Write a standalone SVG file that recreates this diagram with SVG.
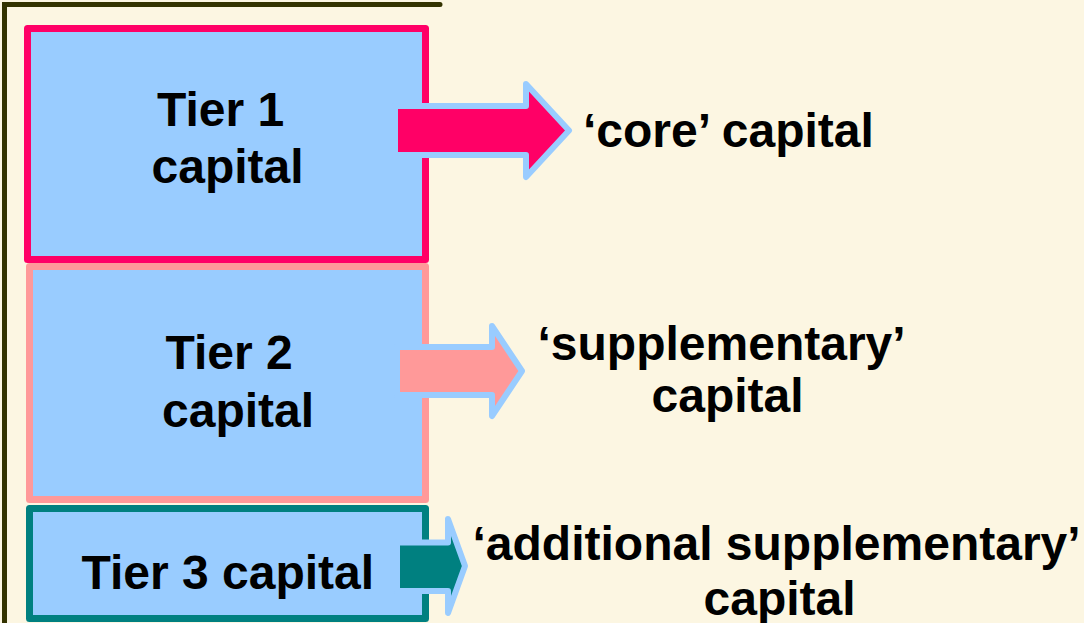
<svg xmlns="http://www.w3.org/2000/svg" width="1084" height="623" viewBox="0 0 1084 623">
<style>
.box{fill:#99CCFF;stroke-width:7;stroke-linejoin:round}
.arr{stroke:#99CCFF;stroke-width:6;stroke-linejoin:round}
.t{font-family:"Liberation Sans",Arial,sans-serif;font-weight:bold;font-size:48px;fill:#000}
.frame{stroke:#333300;stroke-width:5;stroke-linecap:round;fill:none}
</style>
<rect x="0" y="0" width="1084" height="623" fill="#FCF6E2"/>
<path class="frame" d="M440 4.5 H4.5 V625"/>
<g id="tier1">
<rect class="box" x="27.5" y="28.5" width="398" height="231" stroke="#FF0066"/>
<text class="t" x="157" y="126">Tier 1</text>
<text class="t" x="151.5" y="183">capital</text>
</g>
<g id="tier2">
<rect class="box" x="29.5" y="266.5" width="396" height="233" stroke="#FF9999"/>
<text class="t" x="165.5" y="369">Tier 2</text>
<text class="t" x="162" y="427">capital</text>
</g>
<g id="tier3">
<rect class="box" x="29.5" y="508.5" width="396" height="110" stroke="#008080"/>
<text class="t" x="81.5" y="589">Tier 3 capital</text>
</g>
<g id="connectors">
<path class="arr" fill="#FF0066" d="M395 106 L526 106 L526 84 L569 130.5 L526 177 L526 155 L395 155 Z"/>
<path class="arr" fill="#FF9999" d="M397 347 L492 347 L492 326 L522 371 L492 416 L492 395 L397 395 Z"/>
<path class="arr" fill="#008080" d="M397 542.5 L448 542.5 L448 519 L465 566 L448 613 L448 591 L397 591 Z"/>
</g>
<g id="label-core">
<text class="t" x="583" y="147">‘core’ capital</text>
</g>
<g id="label-supplementary">
<text class="t" x="537.5" y="360">‘supplementary’</text>
<text class="t" x="651.5" y="412">capital</text>
</g>
<g id="label-additional">
<text class="t" x="472.5" y="560">‘additional supplementary’</text>
<text class="t" x="703.5" y="615">capital</text>
</g>
</svg>
